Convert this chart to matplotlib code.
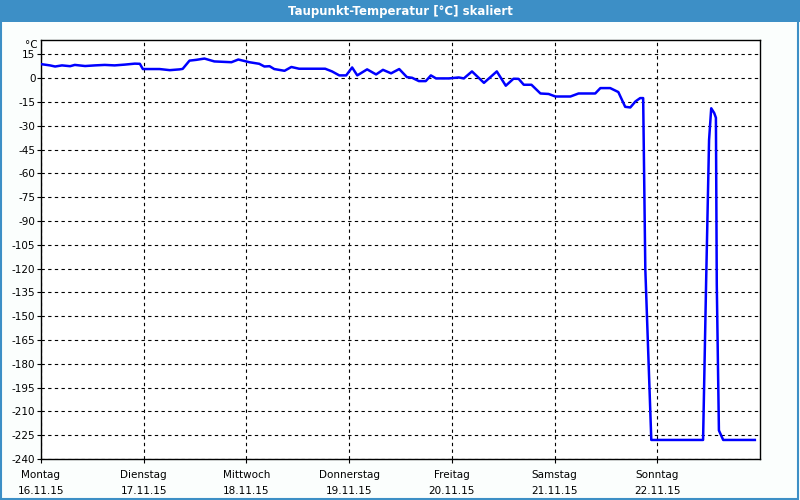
import matplotlib
matplotlib.use('Agg')
import matplotlib.pyplot as plt
from matplotlib.patches import Rectangle

# Data: hours since Montag 16.11.15 00:00, dew point in degC
hours = [0, 2.1, 3.3, 4.9, 6.8, 7.9, 10.3, 12.6, 14.9, 17.2, 19.6, 21.9, 23.1, 23.8,
         27.7, 30.1, 32.4, 33.1, 34.7, 36.3, 38.2, 40.5, 44.5, 46.1, 48.7, 51.0,
         52.2, 53.4, 54.5, 56.9, 58.5, 60.3, 66.4, 68.0, 69.7, 71.3, 72.7, 73.9,
         76.2, 78.3, 79.9, 81.8, 83.7, 85.5, 86.7, 88.3, 89.9, 91.1, 92.3, 95.3,
         97.6, 98.8, 100.7, 103.5, 106.5, 108.6, 110.4, 111.6, 112.8, 114.6, 116.7,
         118.6, 120.2, 123.7, 125.6, 129.5, 130.7, 133.0, 134.9, 136.5, 137.7,
         138.9, 140.0, 140.7, 141.2, 142.6, 154.7, 155.4, 156.1, 156.6, 157.3,
         157.7, 157.9, 158.4, 159.4, 166.8]
temps = [8.8, 8.0, 7.3, 8.0, 7.5, 8.3, 7.6, 8.0, 8.3, 8.0, 8.5, 9.1, 9.0, 5.7,
         5.7, 5.0, 5.5, 5.8, 11.0, 11.5, 12.3, 10.5, 10.0, 11.7, 10.0, 9.0,
         7.3, 7.5, 5.7, 4.6, 7.0, 5.9, 5.9, 4.2, 1.7, 1.7, 6.7, 1.7,
         5.5, 2.3, 5.2, 3.0, 5.7, 0.6, 0.2, -1.9, -1.9, 1.7, -0.2, -0.2,
         0.4, -0.2, 4.2, -3.0, 4.2, -4.8, -0.4, -0.5, -4.2, -4.2, -9.7,
         -10.0, -11.6, -11.6, -9.7, -9.7, -6.3, -6.3, -8.8, -18.1, -18.5,
         -14.7, -12.6, -12.6, -120, -228, -228, -130, -39, -19, -22,
         -25, -130, -222, -228, -228]

day_names = ['Montag', 'Dienstag', 'Mittwoch', 'Donnerstag', 'Freitag', 'Samstag', 'Sonntag']
day_dates = ['16.11.15', '17.11.15', '18.11.15', '19.11.15', '20.11.15', '21.11.15', '22.11.15']
y_ticks = list(range(-240, 16, 15))

bar_col = '#3d8fc6'

fig = plt.figure(figsize=(8, 5), dpi=100, facecolor='#fbfefd')

# title bar and window frame
fig.patches.append(Rectangle((0, 0.956), 1, 0.044, transform=fig.transFigure,
                             facecolor=bar_col, edgecolor='none', zorder=0))
fig.patches.append(Rectangle((0.001, 0.002), 0.997, 0.99, transform=fig.transFigure,
                             facecolor='none', edgecolor=bar_col, lw=1.5, zorder=0))
fig.text(0.5, 0.977, 'Taupunkt-Temperatur [°C] skaliert', color='white',
         ha='center', va='center', fontsize=8.5, fontweight='bold')

ax = fig.add_axes([0.05125, 0.082, 0.89875, 0.838])
ax.set_facecolor('white')
ax.plot(hours, temps, color='#0000ff', lw=1.8, zorder=3)

ax.set_xlim(0, 168)
ax.set_ylim(-240, 24)
ax.set_yticks(y_ticks)
ax.set_yticklabels([str(v) for v in y_ticks])
ax.set_xticks([24 * i for i in range(7)])
ax.set_xticklabels([n + '\n' + d for n, d in zip(day_names, day_dates)])

ax.grid(True, color='black', linestyle=(0, (3, 3)), linewidth=0.8)
ax.tick_params(axis='both', labelsize=7.5, length=3, width=0.8, color='black')
ax.tick_params(axis='x', pad=5)
ax.tick_params(axis='y', pad=1)
for lbl in ax.get_xticklabels():
    lbl.set_linespacing(1.7)
for s in ax.spines.values():
    s.set_linewidth(1.0)

ax.text(-0.005, 1.0, '°C', transform=ax.transAxes, ha='right', va='top', fontsize=7.5)

fig.savefig('out.png', dpi=100, facecolor=fig.get_facecolor())
